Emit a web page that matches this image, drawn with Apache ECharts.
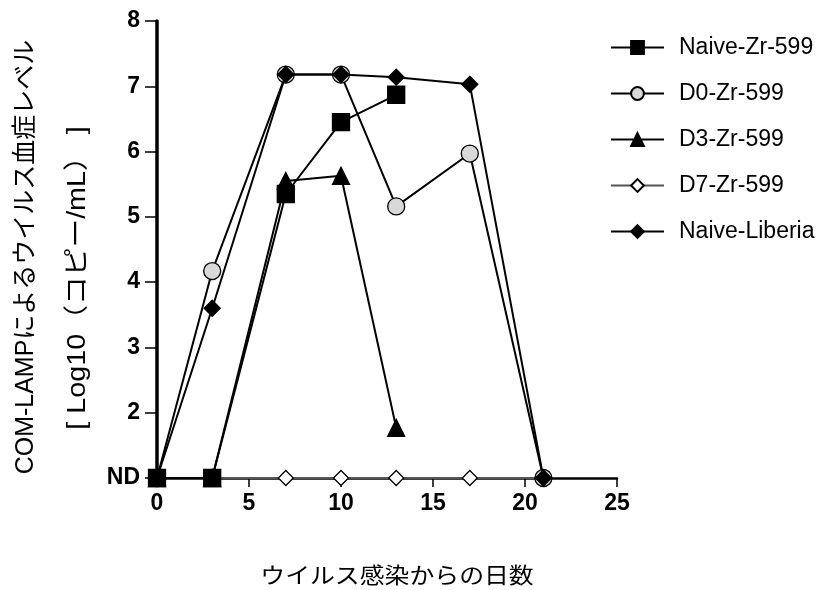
<!DOCTYPE html>
<html><head><meta charset="utf-8">
<script src="https://cdn.jsdelivr.net/npm/echarts@6/dist/echarts.min.js"></script>
<style>html,body{margin:0;padding:0;background:#fff}#c{width:830px;height:590px}</style>
</head><body><div id="c"></div>
<script>
const seriesNames = ['Naive-Zr-599','D0-Zr-599','D3-Zr-599','D7-Zr-599','Naive-Liberia'];
const naiveZr = [[0,1],[3,1],[7,5.35],[10,6.45],[13,6.87]];
const d0Zr = [[0,1],[3,4.17],[7,7.18],[10,7.18],[13,5.16],[17,5.97],[21,1]];
const d3Zr = [[0,1],[3,1],[7,5.55],[10,5.63],[13,1.77]];
const d7Zr = [[0,1],[3,1],[7,1],[10,1],[13,1],[17,1],[21,1]];
const naiveLib = [[0,1],[3,3.6],[7,7.18],[10,7.18],[13,7.14],[17,7.03],[21,1]];
const yTickLabels = {1:'ND',2:'2',3:'3',4:'4',5:'5',6:'6',7:'7',8:'8'};
const xName = 'ウイルス感染からの日数';
const yName1 = 'COM-LAMPによるウイルス血症レベル';
const yName2 = '[ Log10（コピー/mL） ]';

const font = 'Liberation Sans, Arial, Noto Sans CJK JP, sans-serif';
const chart = echarts.init(document.getElementById('c'));
function mk(name, data, symbol, size, fill, z, lineColor){
  return {name, type:'line', data, symbol, symbolSize:size, z,
    lineStyle:{color:lineColor||'#000', width:2},
    itemStyle:{color:fill, borderColor:'#000', borderWidth:1.3},
    emphasis:{disabled:true}, animation:false};
}
chart.setOption({
  animation:false,
  grid:{left:157, right:213, top:21, bottom:112},
  legend:{orient:'vertical', left:605, top:31, itemGap:23, itemWidth:53, itemHeight:16,
    textStyle:{fontSize:23, color:'#000', fontFamily:font, padding:[0,0,0,10]},
    data:seriesNames},
  xAxis:{type:'value', min:0, max:25, interval:5,
    axisLine:{lineStyle:{color:'#000', width:2.5}},
    axisTick:{length:9, lineStyle:{color:'#000', width:1.5}},
    splitLine:{show:false},
    axisLabel:{fontSize:23, fontWeight:'bold', color:'#000', fontFamily:font, margin:14}},
  yAxis:{type:'value', min:1, max:8, interval:1,
    axisLine:{show:true, lineStyle:{color:'#000', width:3.5}},
    axisTick:{show:true, length:12, lineStyle:{color:'#000', width:1.5}},
    splitLine:{show:false},
    axisLabel:{fontSize:23, fontWeight:'bold', color:'#000', fontFamily:font, margin:17, formatter:v=>yTickLabels[v]}},
  graphic:[
    {type:'text', x:397, y:577, scaleX:1.13, style:{text:xName, fontSize:22, fill:'#000', fontFamily:font, align:'center', verticalAlign:'middle'}},
    {type:'text', x:26, y:257, rotation:Math.PI/2, style:{text:yName1, fontSize:25, fill:'#000', fontFamily:font, align:'center', verticalAlign:'middle'}},
    {type:'text', x:78, y:278, rotation:Math.PI/2, scaleX:1.15, style:{text:yName2, fontSize:25, fill:'#000', fontFamily:font, align:'center', verticalAlign:'middle'}}
  ],
  series:[
    mk(seriesNames[3], d7Zr, 'diamond', 15, '#fff', 2, '#555'),
    mk(seriesNames[1], d0Zr, 'circle', 17, '#d9d9d9', 3),
    mk(seriesNames[0], naiveZr, 'rect', 17, '#000', 4),
    mk(seriesNames[2], d3Zr, 'triangle', 17, '#000', 5),
    mk(seriesNames[4], naiveLib, 'diamond', 16, '#000', 6)
  ]
});
</script></body></html>
